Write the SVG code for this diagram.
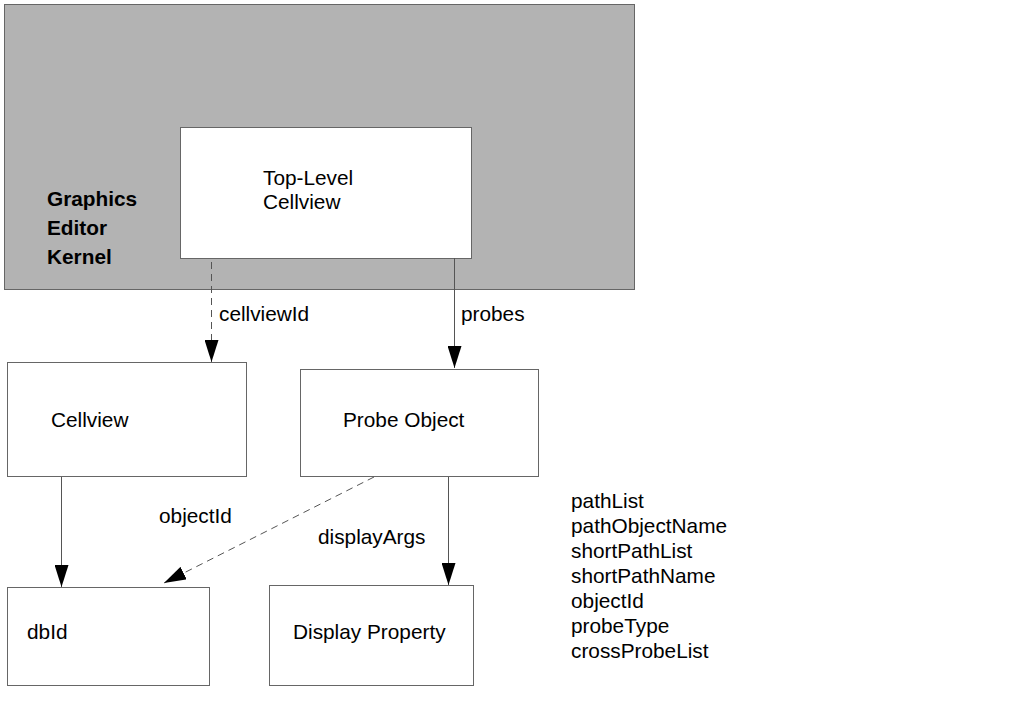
<svg xmlns="http://www.w3.org/2000/svg" width="1013" height="728" viewBox="0 0 1013 728">
<style>
.box{fill:#fff;stroke:#666;stroke-width:1}
.t{font-family:"Liberation Sans",Arial,sans-serif;font-size:20.8px;fill:#000}
.b{font-weight:bold}
.ln{stroke:#555;stroke-width:1;fill:none}
.d{stroke-dasharray:7,5}
</style>
<defs>
<marker id="ah" markerWidth="22" markerHeight="14" refX="22" refY="7" orient="auto" markerUnits="userSpaceOnUse">
<path d="M0,0 L22,7 L0,14 Z" fill="#000"/>
</marker>
</defs>
<rect width="1013" height="728" fill="#fff"/>
<g id="kernel">
<rect x="4.5" y="4.5" width="630" height="285" fill="#b3b3b3" stroke="#666"/>
<text class="t b" x="47" y="206">Graphics</text>
<text class="t b" x="47" y="235">Editor</text>
<text class="t b" x="47" y="264">Kernel</text>
</g>
<g id="toplevel">
<rect class="box" x="180.5" y="127.5" width="291" height="131"/>
<text class="t" x="263" y="185">Top-Level</text>
<text class="t" x="263" y="209">Cellview</text>
</g>
<g id="cellview">
<rect class="box" x="7.5" y="362.5" width="239" height="114"/>
<text class="t" x="51" y="427">Cellview</text>
</g>
<g id="probeobject">
<rect class="box" x="300.5" y="369.5" width="238" height="107"/>
<text class="t" x="343" y="427">Probe Object</text>
</g>
<g id="dbid">
<rect class="box" x="7.5" y="587.5" width="202" height="98"/>
<text class="t" x="27" y="639">dbId</text>
</g>
<g id="displayproperty">
<rect class="box" x="269.5" y="585.5" width="204" height="100"/>
<text class="t" x="293" y="639">Display Property</text>
</g>
<g id="attributes">
<text class="t" x="571" y="508">pathList</text>
<text class="t" x="571" y="533">pathObjectName</text>
<text class="t" x="571" y="558">shortPathList</text>
<text class="t" x="571" y="583">shortPathName</text>
<text class="t" x="571" y="608">objectId</text>
<text class="t" x="571" y="633">probeType</text>
<text class="t" x="571" y="658">crossProbeList</text>
</g>
<g id="connectors">
<line class="ln d" x1="211.5" y1="262" x2="211.5" y2="362" marker-end="url(#ah)"/>
<line class="ln" x1="454.5" y1="258" x2="454.5" y2="368" marker-end="url(#ah)"/>
<line class="ln" x1="61.5" y1="477" x2="61.5" y2="587" marker-end="url(#ah)"/>
<line class="ln d" x1="374" y1="477" x2="164" y2="583" marker-end="url(#ah)"/>
<line class="ln" x1="448.5" y1="477" x2="448.5" y2="585" marker-end="url(#ah)"/>
<text class="t" x="219" y="321">cellviewId</text>
<text class="t" x="461" y="321">probes</text>
<text class="t" x="159" y="523">objectId</text>
<text class="t" x="318" y="544">displayArgs</text>
</g>
</svg>
